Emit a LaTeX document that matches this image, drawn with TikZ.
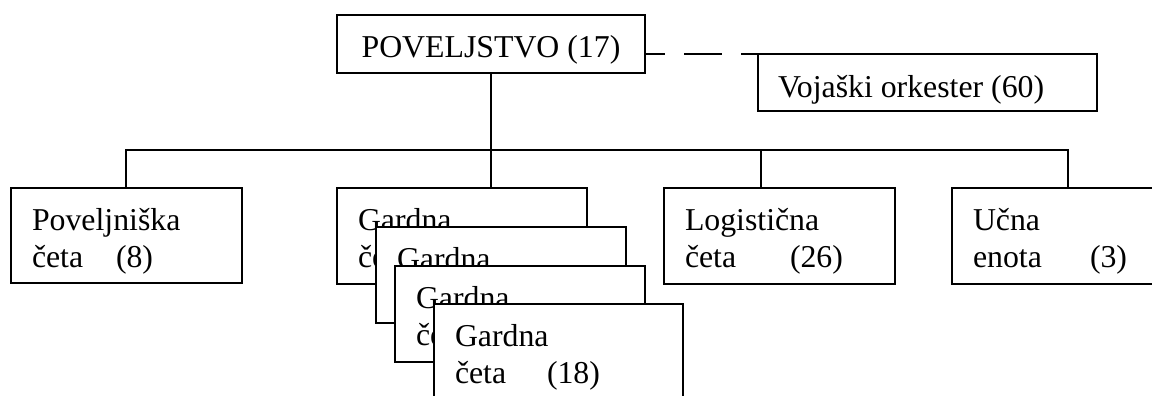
\documentclass[tikz,border=0pt]{standalone}
\usepackage{fontspec}
\setmainfont{Liberation Serif}
\begin{document}
\begin{tikzpicture}[x=1pt,y=-1pt,
  box/.style={draw=black,fill=white,line width=1.5pt,rectangle,anchor=north west,inner sep=0pt,outer sep=0pt},
  lbl/.style={anchor=base west,inner sep=0pt,outer sep=0pt,font=\fontsize{31.8}{37}\selectfont},
  conn/.style={draw=black,line width=1.5pt},
  dashline/.style={draw=black,line width=1.5pt,dash pattern=on 38pt off 19pt,dash phase=18pt}]
\useasboundingbox (0,0) rectangle (1152,396);
\coordinate (bus) at (0,150);
\coordinate (logtap) at (761,150);
\coordinate (lefttap) at (126,150);
\coordinate (righttap) at (1068,150);
% boxes positions
\node[box,minimum width=308pt,minimum height=58pt] (pov) at (337,15) {};
\node[box,minimum width=339pt,minimum height=57pt] (voj) at (758,54) {};
% Poveljniška / Logistična / Učna boxes
\node[box,minimum width=231pt,minimum height=95pt] (pc) at (11,188) {};
\node[box,minimum width=231pt,minimum height=96pt] (lc) at (664,188) {};
\node[box,minimum width=231pt,minimum height=96pt] (ue) at (952,188) {};
% connectors
\draw[conn] (pov.south) -- (pov.south |- pc.north);
\draw[conn] (lefttap |- pc.north) -- (lefttap) -- (righttap) -- (righttap |- ue.north);
\draw[conn] (logtap) -- (logtap |- lc.north);
\draw[dashline] (pov.east |- voj.north) -- (voj.north west);
% top texts
\node[lbl,anchor=base] (povt) at (491,58) {POVELJSTVO (17)};
\node[lbl] (vojt) at (778,97) {Vojaški orkester (60)};
% Poveljniška
\node[lbl] (pc1) at (32,230) {Poveljniška};
\node[lbl] (pc2) at (32,267) {četa};
\node[lbl] (pc3) at (116,267) {(8)};
% Logistična
\node[lbl] (lc1) at (685,230) {Logistična};
\node[lbl] (lc2) at (685,267) {četa};
\node[lbl] (lc3) at (790,267) {(26)};
% Učna
\node[lbl] (ue1) at (973,230) {Učna};
\node[lbl] (ue2) at (973,267) {enota};
\node[lbl] (ue3) at (1090,267) {(3)};
% Gardna stack
\node[box,minimum width=250pt,minimum height=96pt] (g1) at (337,188) {};
\node[lbl] (g1a) at (358,230) {Gardna};
\node[lbl] (g1b) at (358,267) {četa};
\node[lbl] (g1c) at (471,267) {(18)};
\node[box,minimum width=250pt,minimum height=96pt] (g2) at (376,227) {};
\node[lbl] (g2a) at (397,269) {Gardna};
\node[lbl] (g2b) at (397,306) {četa};
\node[lbl] (g2c) at (510,306) {(18)};
\node[box,minimum width=250pt,minimum height=96pt] (g3) at (395,266) {};
\node[lbl] (g3a) at (416,308) {Gardna};
\node[lbl] (g3b) at (416,345) {četa};
\node[lbl] (g3c) at (529,345) {(18)};
\node[box,minimum width=249pt,minimum height=96pt] (g4) at (434,304) {};
\node[lbl] (g4a) at (455,346) {Gardna};
\node[lbl] (g4b) at (455,383) {četa};
\node[lbl] (g4c) at (547,383) {(18)};
\end{tikzpicture}
\end{document}
